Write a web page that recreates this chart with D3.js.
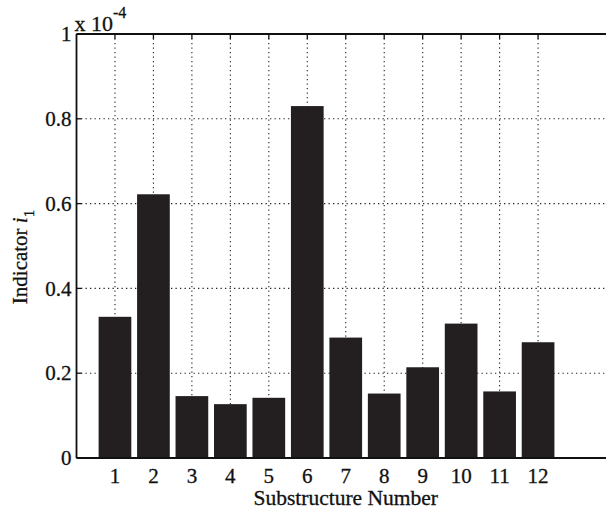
<!DOCTYPE html>
<html><head><meta charset="utf-8">
<script src="https://cdn.jsdelivr.net/npm/d3@7"></script>
<style>
body{margin:0;background:#fff;}
text{font-family:"Liberation Serif","Times New Roman",serif;fill:#111;stroke:#111;stroke-width:0.3px;}
</style></head>
<body><svg id="c" width="606" height="510"></svg>
<script>
const categories = [1,2,3,4,5,6,7,8,9,10,11,12];
const values = [0.333,0.622,0.146,0.127,0.142,0.830,0.284,0.152,0.214,0.317,0.157,0.273];
const yTicks = [0,0.2,0.4,0.6,0.8,1];
const yTickLabels = ["0","0.2","0.4","0.6","0.8","1"];
const xLabel = "Substructure Number";
const yLabel = "Indicator";
const exponentText = "x 10";
const exponentSup = "-4";

const svg = d3.select("#c");
const pL = 76.5, pT = 34, pB = 458, pR = 615;
const x = d3.scaleLinear().domain([0,14]).range([pL,pR]);
const y = d3.scaleLinear().domain([0,1]).range([pB,pT]);
const barW = (x(1)-x(0))*0.85;

// grid
const g = svg.append("g");
g.selectAll("line.vg").data(categories).join("line")
  .attr("x1",d=>x(d)).attr("x2",d=>x(d)).attr("y1",pT).attr("y2",pB)
  .attr("stroke","#222").attr("stroke-width",1.1).attr("stroke-dasharray","1.3,3.2");
g.selectAll("line.hg").data(yTicks.slice(1,-1)).join("line")
  .attr("x1",pL).attr("x2",pR).attr("y1",d=>y(d)).attr("y2",d=>y(d))
  .attr("stroke","#222").attr("stroke-width",1.1).attr("stroke-dasharray","1.3,3.2");

// bars
svg.selectAll("rect.bar").data(values).join("rect")
  .attr("x",(d,i)=>x(categories[i])-barW/2).attr("width",barW)
  .attr("y",d=>y(d)).attr("height",d=>y(0)-y(d))
  .attr("fill","#231f20");

// axes lines
svg.append("line").attr("x1",pL).attr("x2",pR).attr("y1",pT).attr("y2",pT).attr("stroke","#111").attr("stroke-width",1.8);
svg.append("line").attr("x1",pL).attr("x2",pR).attr("y1",pB).attr("y2",pB).attr("stroke","#111").attr("stroke-width",1.8);
svg.append("line").attr("x1",pL).attr("x2",pL).attr("y1",pT).attr("y2",pB).attr("stroke","#111").attr("stroke-width",1.8);

// y ticks (inward)
svg.selectAll("line.yt").data(yTicks).join("line")
  .attr("x1",pL).attr("x2",pL+5).attr("y1",d=>y(d)).attr("y2",d=>y(d))
  .attr("stroke","#111").attr("stroke-width",1.3);
// top x ticks (inward)
svg.selectAll("line.xt").data(categories).join("line")
  .attr("x1",d=>x(d)).attr("x2",d=>x(d)).attr("y1",pT).attr("y2",pT+5)
  .attr("stroke","#111").attr("stroke-width",1.3);

// y tick labels
svg.selectAll("text.yl").data(yTicks).join("text")
  .attr("x",pL-5).attr("y",d=>y(d)).attr("dy","0.34em")
  .attr("text-anchor","end").attr("font-size",21).text((d,i)=>yTickLabels[i]);
// x tick labels
svg.selectAll("text.xl").data(categories).join("text")
  .attr("x",d=>x(d)).attr("y",483).attr("text-anchor","middle")
  .attr("font-size",21).text(d=>d);

// exponent
const ex = svg.append("text").attr("x",pL-2).attr("y",31).attr("font-size",22);
ex.append("tspan").text(exponentText);
ex.append("tspan").attr("dy",-13).attr("font-size",16).text(exponentSup);

// x label
svg.append("text").attr("x",(pL+pR)/2).attr("y",505).attr("text-anchor","middle")
  .attr("font-size",21.5).text(xLabel);
// y label
const yl = svg.append("text").attr("transform","translate(27,257) rotate(-90)")
  .attr("text-anchor","middle").attr("font-size",21);
yl.append("tspan").text(yLabel+" ");
yl.append("tspan").attr("font-style","italic").text("i");
yl.append("tspan").attr("dy",7).attr("font-size",15).text("1");
</script></body></html>
